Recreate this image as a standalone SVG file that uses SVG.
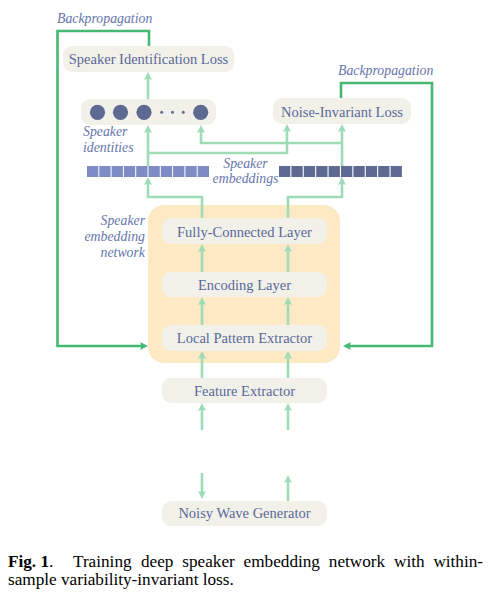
<svg xmlns="http://www.w3.org/2000/svg" width="489" height="604" viewBox="0 0 489 604" font-family="'Liberation Serif', 'Times New Roman', Times, serif">
<style>
text{font-family:'Liberation Serif','Times New Roman',Times,serif}
.box{fill:#f2f1e9}
.t{font-size:14.5px;fill:#5a6899;text-anchor:middle}
.it{font-size:13.8px;font-style:italic;fill:#6675ab}
.lg{fill:none;stroke:#9ddcb6;stroke-width:2.6}
.dg{fill:none;stroke:#45b872;stroke-width:2.6}
.cap{font-size:17.2px;fill:#000}
.e1{fill:#7d8cc4}
.e2{fill:#5f6a93}
</style>
<defs>
<marker id="al" viewBox="0 0 8 8" markerUnits="userSpaceOnUse" markerWidth="8" markerHeight="8" refX="4" refY="4" orient="auto">
<path d="M0,0 L8,4 L0,8 L1.5,4 z" fill="#9ddcb6"/>
</marker>
<marker id="ad" viewBox="0 0 8 8" markerUnits="userSpaceOnUse" markerWidth="8" markerHeight="8" refX="4" refY="4" orient="auto">
<path d="M0,0 L8,4 L0,8 L1.5,4 z" fill="#45b872"/>
</marker>
</defs>

<g id="network">
<rect x="148" y="205" width="192" height="158" rx="16" fill="#fde9c3"/>
</g>

<g id="sil"><rect class="box" x="63" y="46" width="171" height="26" rx="9"/><text class="t" x="148.5" y="64">Speaker Identification Loss</text></g>
<g id="nil"><rect class="box" x="273" y="98" width="138" height="26" rx="9"/><text class="t" x="342" y="117">Noise-Invariant Loss</text></g>
<g id="identities">
<rect class="box" x="81" y="99" width="135" height="26" rx="9"/>
<g class="e2"><circle cx="97.5" cy="112.3" r="7.6"/><circle cx="120.5" cy="112.3" r="7.6"/><circle cx="144" cy="112.3" r="7.6"/><circle cx="200.7" cy="112.3" r="7.6"/>
<circle cx="161.7" cy="112.3" r="1.5"/><circle cx="172.5" cy="112.3" r="1.5"/><circle cx="183.3" cy="112.3" r="1.5"/></g>
</g>
<g id="emb-left" class="e1">
<rect x="87" y="166" width="11.3" height="11"/><rect x="99.3" y="166" width="11.3" height="11"/><rect x="111.6" y="166" width="11.3" height="11"/><rect x="123.9" y="166" width="11.3" height="11"/><rect x="136.2" y="166" width="11.3" height="11"/><rect x="148.5" y="166" width="11.3" height="11"/><rect x="160.8" y="166" width="11.3" height="11"/><rect x="173.1" y="166" width="11.3" height="11"/><rect x="185.4" y="166" width="11.3" height="11"/><rect x="197.7" y="166" width="11.3" height="11"/>
</g>
<g id="emb-right" class="e2">
<rect x="279" y="166" width="11.3" height="11"/><rect x="291.4" y="166" width="11.3" height="11"/><rect x="303.8" y="166" width="11.3" height="11"/><rect x="316.2" y="166" width="11.3" height="11"/><rect x="328.6" y="166" width="11.3" height="11"/><rect x="341" y="166" width="11.3" height="11"/><rect x="353.4" y="166" width="11.3" height="11"/><rect x="365.8" y="166" width="11.3" height="11"/><rect x="378.2" y="166" width="11.3" height="11"/><rect x="390.6" y="166" width="11.3" height="11"/>
</g>
<g id="fc"><rect class="box" x="162" y="218" width="165" height="26" rx="9"/><text class="t" x="244.5" y="236.5">Fully-Connected Layer</text></g>
<g id="enc"><rect class="box" x="162" y="272" width="165" height="25" rx="9"/><text class="t" x="244.5" y="290">Encoding Layer</text></g>
<g id="lpe"><rect class="box" x="162" y="325" width="165" height="26" rx="9"/><text class="t" x="244.5" y="342.5">Local Pattern Extractor</text></g>
<g id="fe"><rect class="box" x="162" y="378" width="165" height="25" rx="9"/><text class="t" x="244.5" y="395.5">Feature Extractor</text></g>
<g id="nwg"><rect class="box" x="162" y="501" width="165" height="25" rx="9"/><text class="t" x="244.5" y="518">Noisy Wave Generator</text></g>

<g id="labels">
<text class="it" x="57" y="23">Backpropagation</text>
<text class="it" x="338" y="74.5">Backpropagation</text>
<text class="it" x="83" y="135.5">Speaker</text>
<text class="it" x="83" y="152">identities</text>
<text class="it" x="245.5" y="167.5" text-anchor="middle">Speaker</text>
<text class="it" x="245.5" y="183" text-anchor="middle">embeddings</text>
<text class="it" x="145" y="225" text-anchor="end">Speaker</text>
<text class="it" x="145" y="241" text-anchor="end">embedding</text>
<text class="it" x="145" y="257" text-anchor="end">network</text>
</g>

<g id="connectors">
<path class="lg" d="M148,99 V76" marker-end="url(#al)"/>
<path class="lg" d="M148,166 V129" marker-end="url(#al)"/>
<path class="lg" d="M148,153 H287 V128" marker-end="url(#al)"/>
<path class="lg" d="M342,166 V128" marker-end="url(#al)"/>
<path class="lg" d="M342,143 H201 V129" marker-end="url(#al)"/>
<path class="lg" d="M202,218 V197 H148 V181" marker-end="url(#al)"/>
<path class="lg" d="M288,218 V197 H342 V181" marker-end="url(#al)"/>
<path class="lg" d="M202,272 V248" marker-end="url(#al)"/>
<path class="lg" d="M288,272 V248" marker-end="url(#al)"/>
<path class="lg" d="M202,325 V301" marker-end="url(#al)"/>
<path class="lg" d="M288,325 V301" marker-end="url(#al)"/>
<path class="lg" d="M202,378 V355" marker-end="url(#al)"/>
<path class="lg" d="M288,378 V355" marker-end="url(#al)"/>
<path class="lg" d="M202,430 V407" marker-end="url(#al)"/>
<path class="lg" d="M288,430 V407" marker-end="url(#al)"/>
<path class="lg" d="M202,473 V495" marker-end="url(#al)"/>
<path class="lg" d="M288,501 V479" marker-end="url(#al)"/>
<path class="dg" d="M149,46 V31 H57.5 V346 H144" marker-end="url(#ad)"/>
<path class="dg" d="M341,98 V83 H432 V346 H347" marker-end="url(#ad)"/>
</g>

<g id="caption">
<text class="cap" y="567"><tspan x="8" font-weight="bold">Fig. 1</tspan><tspan>.</tspan><tspan x="73">Training</tspan><tspan x="141">deep</tspan><tspan x="182.3">speaker</tspan><tspan x="243.6">embedding</tspan><tspan x="328.8">network</tspan><tspan x="394">with</tspan><tspan x="433.4">within-</tspan></text>
<text class="cap" x="8" y="584.5">sample variability-invariant loss.</text>
</g>
</svg>
